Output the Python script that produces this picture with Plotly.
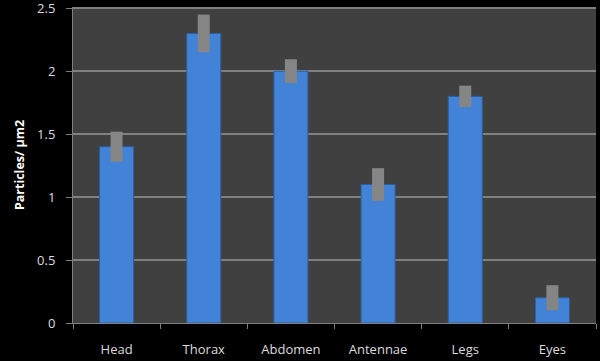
import plotly.graph_objects as go

categories = ["Head", "Thorax", "Abdomen", "Antennae", "Legs", "Eyes"]
values = [1.4, 2.3, 2.0, 1.1, 1.8, 0.2]
errors = [0.12, 0.15, 0.095, 0.13, 0.085, 0.1]
y_ticks = [0, 0.5, 1, 1.5, 2, 2.5]
y_tick_labels = ["0", "0.5", "1", "1.5", "2", "2.5"]

fig = go.Figure()
fig.add_trace(go.Bar(
    x=categories, y=values, width=0.39,
    marker=dict(color="#4283d8", line=dict(color="#2c5f9f", width=1)),
    error_y=dict(type="data", array=errors, visible=True, width=0,
                 thickness=12, color="#858585"),
))

fig.update_layout(
    width=600, height=361,
    margin=dict(l=73, r=4, t=7, b=38),
    paper_bgcolor="#000000", plot_bgcolor="#404040",
    font=dict(family="Open Sans, Liberation Sans, sans-serif", color="#dcdcdc", size=12),
    showlegend=False,
    bargap=0.6,
)
fig.update_yaxes(
    range=[0, 2.51], tickvals=y_ticks, ticktext=y_tick_labels,
    showgrid=True, gridcolor="#808080", gridwidth=1.5,
    showline=True, linecolor="#808080", linewidth=1,
    ticks="outside", ticklen=6, tickcolor="#808080",
    ticklabelstandoff=8, ticklabeloverflow="allow", zeroline=False,
    automargin=False,
    tickfont=dict(size=13),
    title=dict(text="<b>Particles/ µm2</b>", font=dict(size=12.5, color="#ffffff"), standoff=9),
)
fig.update_xaxes(
    showline=True, linecolor="#808080", linewidth=1,
    ticks="outside", ticklen=5, tickcolor="#808080", tickson="boundaries",
    ticklabelstandoff=14, tickfont=dict(size=13), automargin=False,
)

fig.write_html("out.html")
